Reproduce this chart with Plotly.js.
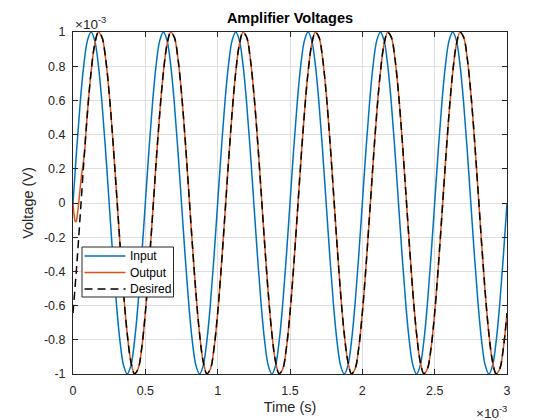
<!DOCTYPE html>
<html>
<head>
<meta charset="utf-8">
<script src="https://cdn.plot.ly/plotly-3.0.1.min.js"></script>
<style>html,body{margin:0;padding:0;background:#fff;}#chart{width:560px;height:420px;}</style>
</head>
<body>
<div id="chart"></div>
<script>
// Time axis: values in units of 1e-3 s; sample spacing of the read-off values
const sampleStart = 0;       // ms
const sampleStep = 0.025;    // ms
const headStep = 0.005;      // ms (finer samples over the output's start-up)
const bodyStart = 0.1;       // ms

// Input voltage (x1e-3 V), read at t = 0, 0.025, ..., 3 ms
const inputV = [
0,0.309,0.588,0.809,0.951,1,0.951,0.809,0.588,0.309,0,-0.309,-0.588,-0.809,-0.951,-1,-0.951,-0.809,-0.588,-0.309,
0,0.309,0.588,0.809,0.951,1,0.951,0.809,0.588,0.309,0,-0.309,-0.588,-0.809,-0.951,-1,-0.951,-0.809,-0.588,-0.309,
0,0.309,0.588,0.809,0.951,1,0.951,0.809,0.588,0.309,0,-0.309,-0.588,-0.809,-0.951,-1,-0.951,-0.809,-0.588,-0.309,
0,0.309,0.588,0.809,0.951,1,0.951,0.809,0.588,0.309,0,-0.309,-0.588,-0.809,-0.951,-1,-0.951,-0.809,-0.588,-0.309,
0,0.309,0.588,0.809,0.951,1,0.951,0.809,0.588,0.309,0,-0.309,-0.588,-0.809,-0.951,-1,-0.951,-0.809,-0.588,-0.309,
0,0.309,0.588,0.809,0.951,1,0.951,0.809,0.588,0.309,0,-0.309,-0.588,-0.809,-0.951,-1,-0.951,-0.809,-0.588,-0.309,
0];

// Desired voltage (x1e-3 V), read at t = 0, 0.025, ..., 3 ms
const desiredV = [
-0.643,-0.375,-0.070,0.242,0.530,0.766,0.927,0.998,0.970,0.848,0.643,0.375,0.070,-0.242,-0.530,-0.766,-0.927,-0.998,-0.970,-0.848,
-0.643,-0.375,-0.070,0.242,0.530,0.766,0.927,0.998,0.970,0.848,0.643,0.375,0.070,-0.242,-0.530,-0.766,-0.927,-0.998,-0.970,-0.848,
-0.643,-0.375,-0.070,0.242,0.530,0.766,0.927,0.998,0.970,0.848,0.643,0.375,0.070,-0.242,-0.530,-0.766,-0.927,-0.998,-0.970,-0.848,
-0.643,-0.375,-0.070,0.242,0.530,0.766,0.927,0.998,0.970,0.848,0.643,0.375,0.070,-0.242,-0.530,-0.766,-0.927,-0.998,-0.970,-0.848,
-0.643,-0.375,-0.070,0.242,0.530,0.766,0.927,0.998,0.970,0.848,0.643,0.375,0.070,-0.242,-0.530,-0.766,-0.927,-0.998,-0.970,-0.848,
-0.643,-0.375,-0.070,0.242,0.530,0.766,0.927,0.998,0.970,0.848,0.643,0.375,0.070,-0.242,-0.530,-0.766,-0.927,-0.998,-0.970,-0.848,
-0.643];

// Output voltage start-up (x1e-3 V), read at t = 0, 0.005, ..., 0.1 ms
const outputHeadV = [0,-0.05,-0.085,-0.105,-0.11,-0.10,-0.07,-0.035,0.005,0.05,0.09,0.13,0.17,0.20,0.23,0.26,0.30,0.355,0.415,0.475,0.530];

// Output voltage (x1e-3 V), read at t = 0.1, 0.125, ..., 3 ms
const outputBodyV = [
0.530,0.766,0.927,0.998,0.970,0.848,0.643,0.375,0.070,-0.242,-0.530,-0.766,-0.927,-0.998,-0.970,-0.848,
-0.643,-0.375,-0.070,0.242,0.530,0.766,0.927,0.998,0.970,0.848,0.643,0.375,0.070,-0.242,-0.530,-0.766,-0.927,-0.998,-0.970,-0.848,
-0.643,-0.375,-0.070,0.242,0.530,0.766,0.927,0.998,0.970,0.848,0.643,0.375,0.070,-0.242,-0.530,-0.766,-0.927,-0.998,-0.970,-0.848,
-0.643,-0.375,-0.070,0.242,0.530,0.766,0.927,0.998,0.970,0.848,0.643,0.375,0.070,-0.242,-0.530,-0.766,-0.927,-0.998,-0.970,-0.848,
-0.643,-0.375,-0.070,0.242,0.530,0.766,0.927,0.998,0.970,0.848,0.643,0.375,0.070,-0.242,-0.530,-0.766,-0.927,-0.998,-0.970,-0.848,
-0.643,-0.375,-0.070,0.242,0.530,0.766,0.927,0.998,0.970,0.848,0.643,0.375,0.070,-0.242,-0.530,-0.766,-0.927,-0.998,-0.970,-0.848,
-0.643];

const seriesNames = ['Input', 'Output', 'Desired'];
const xTickVals = [0, 0.5, 1, 1.5, 2, 2.5, 3];
const xTickText = ['0', '0.5', '1', '1.5', '2', '2.5', '3'];
const yTickVals = [-1, -0.8, -0.6, -0.4, -0.2, 0, 0.2, 0.4, 0.6, 0.8, 1];
const yTickText = ['-1', '-0.8', '-0.6', '-0.4', '-0.2', '0', '0.2', '0.4', '0.6', '0.8', '1'];

const FONT = '"Liberation Sans", Arial, Helvetica, sans-serif';
const AX = '#262626';
const BLUE = '#0072BD', ORANGE = '#D95319';
const DASH = '8px,5px';
const seriesColors = [BLUE, ORANGE, '#000000'];
const seriesDash = ['solid', 'solid', DASH];

const traces = [
  {type:'scatter', mode:'lines', name:seriesNames[0], x0:sampleStart, dx:sampleStep, y:inputV,
   line:{color:BLUE, width:1.5, shape:'spline'}},
  {type:'scatter', mode:'lines', name:seriesNames[1], legendgroup:'out', x0:bodyStart, dx:sampleStep, y:outputBodyV,
   line:{color:ORANGE, width:1.5, shape:'spline'}},
  {type:'scatter', mode:'lines', name:seriesNames[1], legendgroup:'out', x0:sampleStart, dx:headStep, y:outputHeadV,
   line:{color:ORANGE, width:1.5, shape:'spline'}},
  {type:'scatter', mode:'lines', name:seriesNames[2], x0:sampleStart, dx:sampleStep, y:desiredV,
   line:{color:'#000000', width:1.5, shape:'spline', dash:DASH}}
];

// Legend box (MATLAB-style compact legend) in plot-area pixel terms
const plotL = 73, plotT = 32, plotW = 434, plotH = 342;
const px = (x) => (x - plotL) / plotW;
const py = (y) => (plotT + plotH - y) / plotH;
const legBox = {x0:82, x1:173.5, y0:247, y1:297};
const legRowY = [256, 272.5, 289];
const legLineX = [84.5, 125.5];
const legTextX = 128;

const shapes = [
  {type:'rect', xref:'paper', yref:'paper', x0:px(legBox.x0), x1:px(legBox.x1), y0:py(legBox.y1), y1:py(legBox.y0),
   fillcolor:'#ffffff', line:{color:AX, width:1}, layer:'above'}
];
const annotations = [
  {xref:'paper', yref:'paper', x:0, y:py(23), xanchor:'left', yanchor:'middle', showarrow:false,
   text:'×10<sup>-3</sup>', font:{family:FONT, size:13.5, color:AX}},
  {xref:'paper', yref:'paper', x:1, xshift:2, y:py(412), xanchor:'right', yanchor:'middle', showarrow:false,
   text:'×10<sup>-3</sup>', font:{family:FONT, size:13.5, color:AX}}
];
seriesNames.forEach((nm, i) => {
  shapes.push({type:'line', xref:'paper', yref:'paper', x0:px(legLineX[0]), x1:px(legLineX[1]),
    y0:py(legRowY[i]), y1:py(legRowY[i]), line:{color:seriesColors[i], width:1.5, dash:seriesDash[i]}, layer:'above'});
  annotations.push({xref:'paper', yref:'paper', x:px(legTextX), y:py(legRowY[i]), xanchor:'left', yanchor:'middle',
    showarrow:false, text:nm, font:{family:FONT, size:12, color:'#000000'}});
});

const axisCommon = {
  showgrid:true, gridcolor:'#dfdfdf', gridwidth:1,
  showline:true, linecolor:AX, linewidth:1, mirror:'ticks',
  ticks:'inside', ticklen:5, tickwidth:1, tickcolor:AX,
  tickfont:{family:FONT, size:12.5, color:AX},
  zeroline:false, fixedrange:true
};

const layout = {
  width:560, height:420,
  margin:{l:73, r:53, t:32, b:46, pad:0},
  paper_bgcolor:'#ffffff', plot_bgcolor:'#ffffff',
  font:{family:FONT, color:AX},
  title:{text:'Amplifier Voltages', font:{family:FONT, size:14.5, color:'#000000', weight:'bold'},
         xref:'paper', x:0.5, xanchor:'center', yref:'container', y:1-18/420, yanchor:'middle'},
  xaxis:Object.assign({}, axisCommon, {range:[0,3], tickmode:'array', tickvals:xTickVals, ticktext:xTickText,
         ticklabelstandoff:5,
         title:{text:'Time (s)', font:{family:FONT, size:14.5, color:AX}, standoff:4}}),
  yaxis:Object.assign({}, axisCommon, {range:[-1,1], tickmode:'array', tickvals:yTickVals, ticktext:yTickText,
         ticklabelstandoff:4,
         title:{text:'Voltage (V)', font:{family:FONT, size:14.5, color:AX}, standoff:6}}),
  showlegend:false,
  shapes:shapes,
  annotations:annotations
};

Plotly.newPlot('chart', traces, layout, {displayModeBar:false, staticPlot:true});
</script>
</body>
</html>
